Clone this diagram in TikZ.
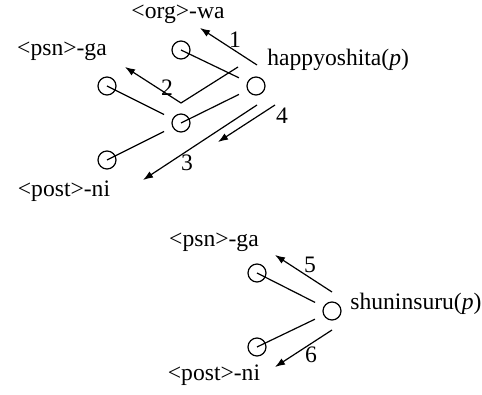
\documentclass[tikz,border=0pt]{standalone}
\usepackage{fontspec}
\setmainfont{Liberation Serif}
\usetikzlibrary{arrows.meta}
\begin{document}
\begin{tikzpicture}[x=0.5pt,y=-0.5pt,>={Latex[length=5pt,width=3.6pt]},
    tok/.style={circle,draw,line width=0.6pt,minimum size=9pt,inner sep=0pt},
    dep/.style={line width=0.6pt,shorten >=9.5pt},
    lnk/.style={->,line width=0.6pt},
    lbl/.style={font=\fontsize{11.8}{14}\selectfont,inner sep=0pt}]
    \useasboundingbox (0,0) rectangle (482,395);
    % happyoshita(p) and its arguments
    \node[tok] (org) at (181,50) {};
    \node[tok] (hap) at (256,86) {};
    \node[tok] (psn) at (107,86) {};
    \node[tok] (mid) at (181,123) {};
    \node[tok] (post) at (107,160) {};
    \draw[dep] (org.center) -- (hap.center);
    \draw[dep] (mid.center) -- (hap.center);
    \draw[dep] (psn.center) -- (mid.center);
    \draw[dep] (post.center) -- (mid.center);
    \node[lbl] (orgwa) at (178,14) {<org>-wa};
    \node[lbl] (psnga) at (62,51) {<psn>-ga};
    \node[lbl,anchor=west] (hapv) at (267,60) {happyoshita(\textit{p})};
    \node[lbl] (postni) at (64,191) {<post>-ni};
    % search steps
    \coordinate (s1) at (257,65); \coordinate (e1) at (200,28);
    \coordinate (s2) at (238,67); \coordinate (k2) at (181,103); \coordinate (e2) at (125,67);
    \coordinate (s3) at (257,105); \coordinate (e3) at (143,180);
    \coordinate (s4) at (275,105); \coordinate (e4) at (218,142);
    \draw[lnk] (s1) -- (e1);
    \draw[lnk] (s2) -- (k2) -- (e2);
    \draw[lnk] (s3) -- (e3);
    \draw[lnk] (s4) -- (e4);
    \node[lbl] (n1) at (235,40) {1};
    \node[lbl] (n2) at (167,88) {2};
    \node[lbl] (n3) at (187,163) {3};
    \node[lbl] (n4) at (282,116) {4};
    % shuninsuru(p) and its arguments
    \node[tok] (sps) at (257,273) {};
    \node[tok] (shu) at (332,311) {};
    \node[tok] (spo) at (257,347) {};
    \draw[dep] (sps.center) -- (shu.center);
    \draw[dep] (spo.center) -- (shu.center);
    \node[lbl] (psnga2) at (214,242) {<psn>-ga};
    \node[lbl,anchor=west] (shuv) at (350,304) {shuninsuru(\textit{p})};
    \node[lbl] (postni2) at (214,375) {<post>-ni};
    \coordinate (s5) at (332,292); \coordinate (e5) at (275,255);
    \coordinate (s6) at (332,330); \coordinate (e6) at (275,367);
    \draw[lnk] (s5) -- (e5);
    \draw[lnk] (s6) -- (e6);
    \node[lbl] (n5) at (310,265) {5};
    \node[lbl] (n6) at (311,355) {6};
\end{tikzpicture}
\end{document}
